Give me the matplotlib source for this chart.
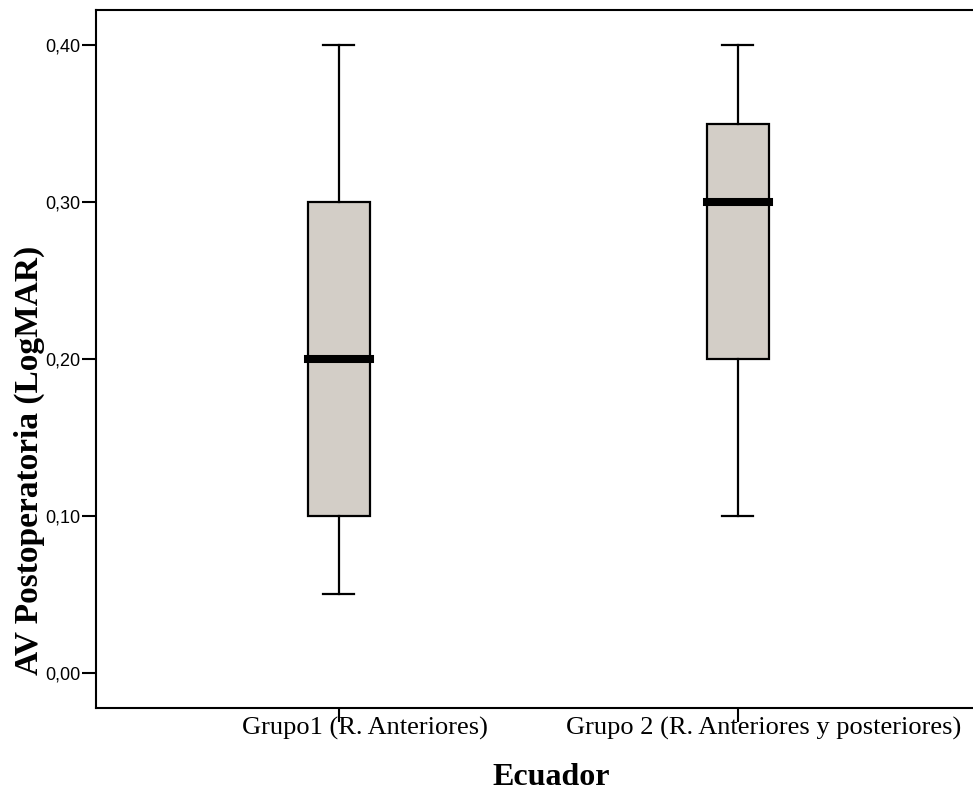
import matplotlib
matplotlib.use("Agg")
import matplotlib.pyplot as plt
import matplotlib.transforms as mtransforms

# Data
groups = ['Grupo1 (R. Anteriores)', 'Grupo 2 (R. Anteriores y posteriores)']
whislo = [0.05, 0.10]
q1 = [0.10, 0.20]
med = [0.20, 0.30]
q3 = [0.30, 0.35]
whishi = [0.40, 0.40]
yticks = [0.0, 0.1, 0.2, 0.3, 0.4]

stats = []
for i in range(len(groups)):
    stats.append(dict(label=groups[i], whislo=whislo[i], q1=q1[i], med=med[i],
                      q3=q3[i], whishi=whishi[i], fliers=[]))

fig = plt.figure(figsize=(9.73, 7.93), dpi=100)
ax = fig.add_axes([96/973, (793-707.5)/793, (1006-96)/973, (707.5-10)/793])

positions = [1, 2]
ax.bxp(stats, positions=positions, widths=0.155, patch_artist=True,
       showfliers=False,
       boxprops=dict(facecolor='#d3cec7', edgecolor='black', linewidth=1.6),
       whiskerprops=dict(color='black', linewidth=1.6),
       capprops=dict(color='black', linewidth=1.6),
       medianprops=dict(color='black', linewidth=5.8, solid_capstyle='projecting'))

ax.set_xlim(0.391, 2.672)
ax.set_ylim(-0.022, 0.4223)

ax.set_yticks(yticks)
ax.set_yticklabels([f'{v:.2f}'.replace('.', ',') for v in yticks],
                   fontfamily='Liberation Sans', fontsize=13)
ax.set_xticks(positions)
ax.set_xticklabels(groups, fontfamily='Liberation Serif', fontsize=19)

ax.tick_params(axis='y', direction='out', length=10, width=1.5, pad=1)
ax.tick_params(axis='x', direction='out', length=10, width=1.5, pad=-3.5)

offset = mtransforms.ScaledTranslation(0.26, 0, fig.dpi_scale_trans)
for lbl in ax.get_xticklabels():
    lbl.set_transform(lbl.get_transform() + offset)

for side in ['left', 'bottom', 'top']:
    ax.spines[side].set_linewidth(1.5)
ax.spines['right'].set_visible(False)

fig.text(29/973, 1 - 460/793, 'AV Postoperatoria (LogMAR)', rotation=90,
         ha='center', va='center', fontfamily='Liberation Serif',
         fontweight='bold', fontsize=24)
fig.text(551/973, 1 - 785/793, 'Ecuador', ha='center', va='baseline',
         fontfamily='Liberation Serif', fontweight='bold', fontsize=23)

fig.savefig('out.png', dpi=100)
